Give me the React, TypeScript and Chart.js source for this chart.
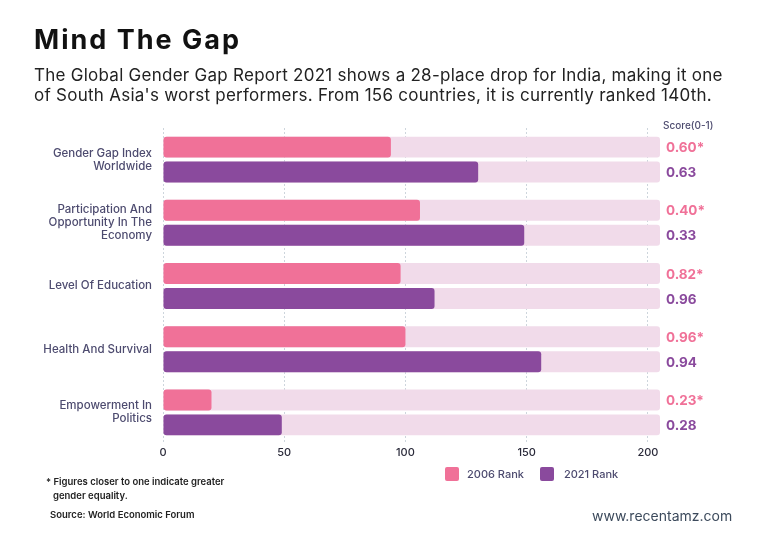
import React, { useEffect, useRef } from "react";
import { Chart, registerables } from "chart.js";

Chart.register(...registerables);

// Categories of the Global Gender Gap Index (multi-line labels as arrays)
const categories: (string | string[])[] = [
  ["Gender Gap Index", "Worldwide"],
  ["Participation And", "Opportunity In The", "Economy"],
  "Level Of Education",
  "Health And Survival",
  ["Empowerment In", "Politics"],
];

// India's rank in each sub-index
const rank2006 = [94, 106, 98, 100, 20];
const rank2021 = [130, 149, 112, 156, 49];

// Scores (0-1) printed to the right of each bar
const score2006 = [0.6, 0.4, 0.82, 0.96, 0.23];
const score2021 = [0.63, 0.33, 0.96, 0.94, 0.28];

// Rank axis
const rankTicks = [0, 50, 100, 150, 200];
const RANK_LIMIT = 205;

const PINK = "#f07198";
const PURPLE = "#8a4a9d";
const TRACK = "#f1dbea";
const LABEL = "#4d4b6f";
const FONT = "Inter, 'Open Sans', sans-serif";

const scoreLabels = {
  id: "scoreLabels",
  afterDatasetsDraw(chart: Chart) {
    const ctx = chart.ctx;
    const x = chart.chartArea.right + 6;
    const rows: [number, number[], string, string][] = [
      [0, score2006, PINK, "*"],
      [1, score2021, PURPLE, ""],
    ];
    ctx.save();
    ctx.font = `700 13.5px ${FONT}`;
    ctx.textAlign = "left";
    ctx.textBaseline = "middle";
    for (const [dsIndex, scores, color, suffix] of rows) {
      const meta = chart.getDatasetMeta(dsIndex);
      meta.data.forEach((bar: any, i: number) => {
        ctx.fillStyle = color;
        ctx.fillText(scores[i].toFixed(2) + suffix, x, bar.y + 1);
      });
    }
    ctx.restore();
  },
};

function GapChart() {
  const canvasRef = useRef<HTMLCanvasElement | null>(null);

  useEffect(() => {
    const canvas = canvasRef.current;
    if (!canvas) return;
    const track = categories.map(() => RANK_LIMIT);
    const barOpts = {
      borderRadius: 3,
      borderSkipped: false as const,
      categoryPercentage: 0.79,
      barPercentage: 0.84,
    };
    const chart = new Chart(canvas, {
      type: "bar",
      data: {
        labels: categories,
        datasets: [
          { label: "2006 Rank", data: rank2006, backgroundColor: PINK, stack: "a", order: 0, ...barOpts },
          { label: "2021 Rank", data: rank2021, backgroundColor: PURPLE, stack: "b", order: 0, ...barOpts },
          { label: "track-a", data: track, backgroundColor: TRACK, stack: "a", order: 1, ...barOpts },
          { label: "track-b", data: track, backgroundColor: TRACK, stack: "b", order: 1, ...barOpts },
        ],
      },
      options: {
        indexAxis: "y",
        responsive: false,
        animation: false,
        devicePixelRatio: 1,
        layout: { padding: { top: 128, bottom: 79, left: 0, right: 108 } },
        plugins: {
          legend: { display: false },
          tooltip: { enabled: false },
          title: { display: false },
        },
        scales: {
          x: {
            stacked: false,
            min: 0,
            max: RANK_LIMIT,
            afterBuildTicks: (scale: any) => {
              scale.ticks = rankTicks.map((v) => ({ value: v }));
            },
            ticks: {
              padding: 2,
              color: "#2a2a3a",
              font: { family: FONT, size: 11, weight: 500 },
            },
            grid: {
              color: "#cdd5dc",
              lineWidth: 1,
              drawTicks: false,
            },
            border: { display: false, dash: [2, 2] },
            afterFit: (scale: any) => {
              scale.height = 20;
            },
          },
          y: {
            grid: { display: false, drawTicks: false },
            border: { display: false },
            ticks: {
              padding: 11,
              color: LABEL,
              font: { family: FONT, size: 11.5, weight: 500, lineHeight: 1.13 },
            },
            afterFit: (scale: any) => {
              scale.width = 163;
            },
          },
        },
      },
      plugins: [scoreLabels],
    });
    return () => chart.destroy();
  }, []);

  return (
    <canvas
      ref={canvasRef}
      width={768}
      height={543}
      style={{ position: "absolute", left: 0, top: 0, width: 768, height: 543 }}
    />
  );
}

export default function App() {
  return (
    <div
      style={{
        position: "absolute",
        left: 0,
        top: 0,
        width: 768,
        height: 543,
        background: "#ffffff",
        fontFamily: FONT,
        overflow: "hidden",
      }}
    >
      <GapChart />
      <div
        style={{
          position: "absolute",
          left: 34,
          top: 25,
          fontSize: 27,
          lineHeight: "30px",
          fontWeight: 700,
          letterSpacing: 2,
          color: "#111111",
          whiteSpace: "nowrap",
        }}
      >
        Mind The Gap
      </div>
      <div
        style={{
          position: "absolute",
          left: 34,
          top: 65,
          width: 730,
          fontSize: 17,
          lineHeight: "20px",
          letterSpacing: 0.26,
          color: "#222222",
        }}
      >
        <div style={{ whiteSpace: "nowrap" }}>
          The Global Gender Gap Report 2021 shows a 28-place drop for India, making it one
        </div>
        <div style={{ whiteSpace: "nowrap" }}>
          of South Asia's worst performers. From 156 countries, it is currently ranked 140th.
        </div>
      </div>
      <div
        style={{
          position: "absolute",
          left: 663,
          top: 118,
          fontSize: 10,
          lineHeight: "14px",
          color: LABEL,
          fontWeight: 500,
          whiteSpace: "nowrap",
        }}
      >
        Score(0-1)
      </div>
      {/* legend */}
      <div
        style={{
          position: "absolute",
          left: 445,
          top: 467,
          display: "flex",
          alignItems: "center",
          fontSize: 11,
          color: LABEL,
          fontWeight: 500,
          whiteSpace: "nowrap",
        }}
      >
        <span style={{ width: 14, height: 14, background: PINK, borderRadius: 2, display: "inline-block" }} />
        <span style={{ marginLeft: 8, marginRight: 16 }}>2006 Rank</span>
        <span style={{ width: 14, height: 14, background: PURPLE, borderRadius: 2, display: "inline-block" }} />
        <span style={{ marginLeft: 10 }}>2021 Rank</span>
      </div>
      <div
        style={{
          position: "absolute",
          left: 46,
          top: 475,
          fontSize: 9.5,
          lineHeight: "14px",
          color: "#222222",
          fontWeight: 600,
          whiteSpace: "nowrap",
        }}
      >
        <div>* Figures closer to one indicate greater</div>
        <div style={{ paddingLeft: 7 }}>gender equality.</div>
      </div>
      <div
        style={{
          position: "absolute",
          left: 50,
          top: 508,
          fontSize: 9.5,
          lineHeight: "14px",
          color: "#222222",
          fontWeight: 600,
          whiteSpace: "nowrap",
        }}
      >
        Source: World Economic Forum
      </div>
      <div
        style={{
          position: "absolute",
          left: 592,
          top: 507,
          fontSize: 14,
          lineHeight: "18px",
          color: "#3c4a5c",
          whiteSpace: "nowrap",
        }}
      >
        www.recentamz.com
      </div>
    </div>
  );
}
